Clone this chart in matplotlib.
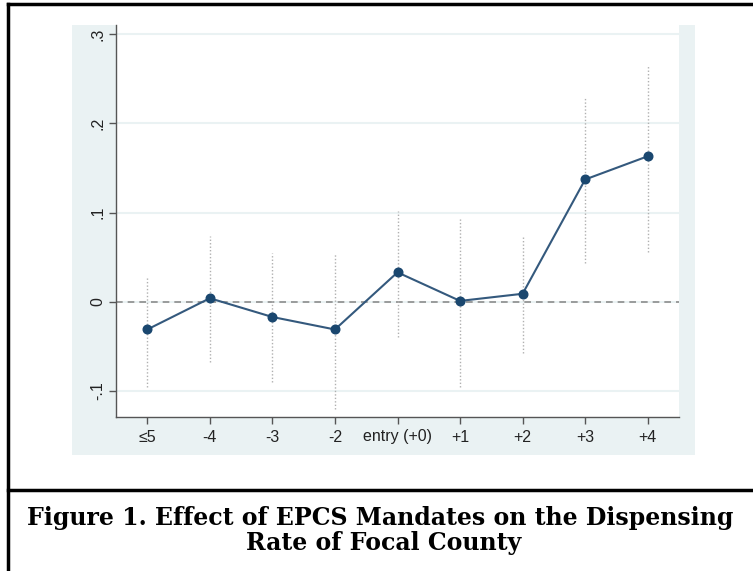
import matplotlib
matplotlib.use("Agg")
import matplotlib.pyplot as plt
from matplotlib.patches import Rectangle
import numpy as np

# event-time categories
periods = ["≤5", "-4", "-3", "-2", "entry (+0)", "+1", "+2", "+3", "+4"]
# point estimates
coef = [-0.031, 0.004, -0.017, -0.031, 0.033, 0.001, 0.009, 0.137, 0.163]
# 95% confidence bounds
ci_low = [-0.095, -0.067, -0.090, -0.120, -0.039, -0.095, -0.057, 0.043, 0.056]
ci_high = [0.029, 0.074, 0.055, 0.055, 0.102, 0.095, 0.075, 0.228, 0.265]
yticks = [-0.1, 0, 0.1, 0.2, 0.3]
yticklabels = ["-.1", "0", ".1", ".2", ".3"]
caption_lines = ["Figure 1. Effect of EPCS Mandates on the Dispensing",
                 "Rate of Focal County"]

W, H = 753, 571
fig = plt.figure(figsize=(W / 100, H / 100), dpi=100)

def px_rect(x0, y0, x1, y1):
    # pixel box -> figure fraction rectangle
    return (x0 / W, 1 - y1 / H, (x1 - x0) / W, (y1 - y0) / H)

# Stata-style graph region background
gx, gy, gw, gh = px_rect(72, 25, 695, 455)
fig.patches.append(Rectangle((gx, gy), gw, gh, transform=fig.transFigure,
                             facecolor="#eaf2f3", edgecolor="none", zorder=-10))

# outer frame and caption separator
frame_kw = dict(transform=fig.transFigure, color="black", lw=2.5, zorder=5)
fig.add_artist(plt.Line2D([7.5 / W, 7.5 / W], [0, 1 - 4 / H], **frame_kw))
fig.add_artist(plt.Line2D([7.5 / W, 1], [1 - 4 / H, 1 - 4 / H], **frame_kw))
fig.add_artist(plt.Line2D([7.5 / W, 1], [1 - 490 / H, 1 - 490 / H], **frame_kw))

ax = fig.add_axes(px_rect(116, 25, 679, 417))
ax.set_facecolor("white")

x = np.arange(len(periods))

for yv in yticks:
    ax.axhline(yv, color="#eaf2f3", lw=1.5, zorder=0)
ax.axhline(0, color="#8c8c8c", lw=1.2, ls=(0, (4, 3)), zorder=1)

ax.vlines(x, ci_low, ci_high, color="#b0b0b0", lw=1.0, ls=(0, (1, 1.5)), zorder=2)
ax.plot(x, coef, color="#34597d", lw=1.5, marker="o", ms=6.2,
        mfc="#1a476f", mec="#1a476f", zorder=3)

ax.set_xlim(-0.5, len(periods) - 0.5)
ax.set_ylim(-0.129, 0.31)
ax.set_xticks(x)
ax.set_xticklabels(periods, fontsize=11.5, family="Liberation Sans")
ax.set_yticks(yticks)
ax.set_yticklabels(yticklabels, fontsize=11.5, family="Liberation Sans",
                   rotation=90, va="center")

for side in ["top", "right"]:
    ax.spines[side].set_visible(False)
for side in ["left", "bottom"]:
    ax.spines[side].set_color("#555555")
    ax.spines[side].set_linewidth(1.0)
ax.tick_params(direction="out", length=5, width=1, color="#555555",
               labelcolor="#222222")
ax.tick_params(axis="x", pad=4)
ax.tick_params(axis="y", pad=2.5)

for line, base, cx in zip(caption_lines, [525, 550], [380, 384]):
    fig.text(cx / W, 1 - base / H, line, ha="center", va="baseline",
             fontsize=17, fontweight="bold", family="DejaVu Serif")

fig.savefig("out.png", dpi=100)
